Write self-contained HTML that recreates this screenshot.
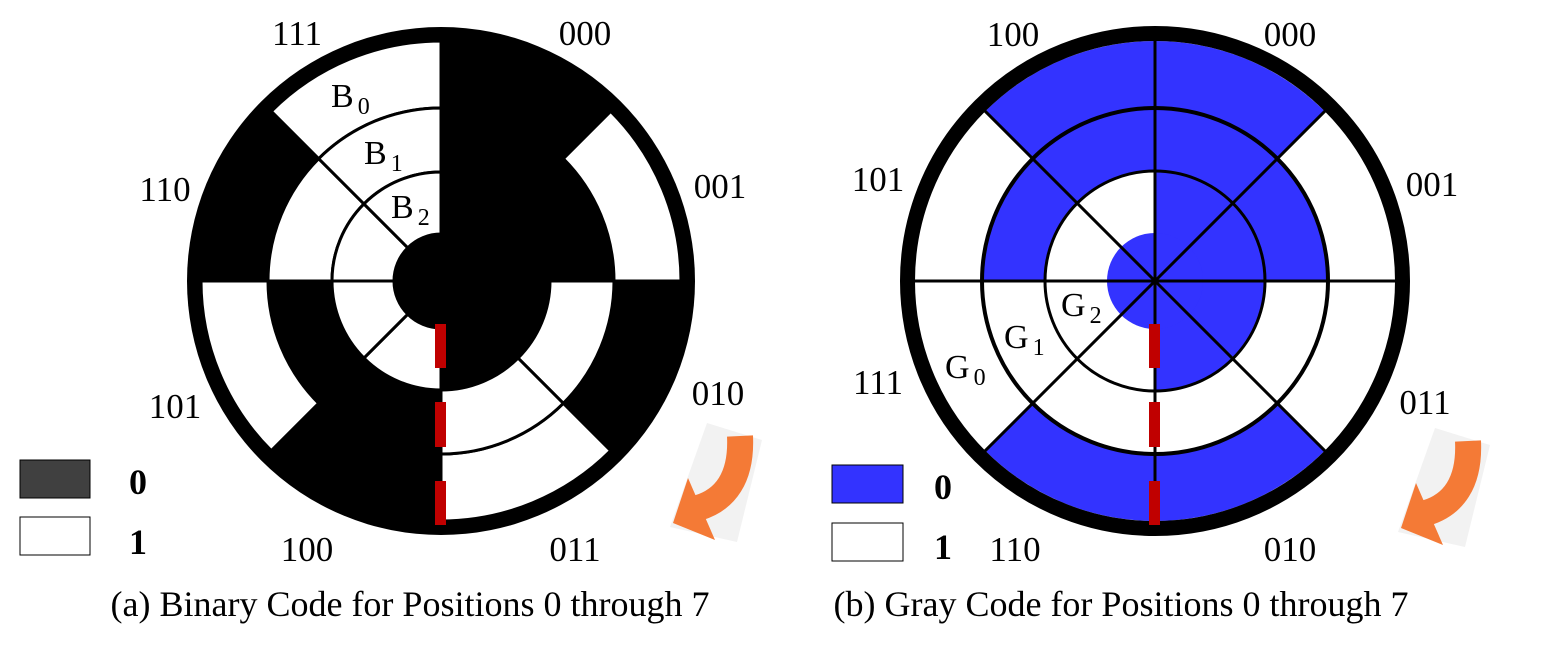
<!DOCTYPE html>
<html><head><meta charset="utf-8"><style>
html,body{margin:0;padding:0;background:#fff;}
svg{display:block;font-family:"Liberation Serif",serif;}
</style></head><body>
<svg id="fig" width="1554" height="651" viewBox="0 0 1554 651" xmlns="http://www.w3.org/2000/svg">
<g id="diskA"></g>
<g id="diskB"></g>

<g font-size="35" text-anchor="middle">
<text x="297" y="45">111</text>
<text x="585" y="45">000</text>
<text x="165" y="201">110</text>
<text x="720" y="198">001</text>
<text x="175" y="418">101</text>
<text x="718" y="405">010</text>
<text x="307" y="561">100</text>
<text x="575" y="561">011</text>
</g>
<g font-size="35" text-anchor="middle">
<text x="1013" y="46">100</text>
<text x="1290" y="46">000</text>
<text x="878" y="191">101</text>
<text x="1432" y="196">001</text>
<text x="878" y="394">111</text>
<text x="1425" y="414">011</text>
<text x="1015" y="561">110</text>
<text x="1290" y="561">010</text>
</g>

<g font-size="34">
<text x="331" y="107">B<tspan font-size="24" dx="4" dy="7">0</tspan></text>
<text x="364" y="164">B<tspan font-size="24" dx="4" dy="7">1</tspan></text>
<text x="391" y="218">B<tspan font-size="24" dx="4" dy="7">2</tspan></text>
<text x="1061" y="316">G<tspan font-size="24" dx="4" dy="7">2</tspan></text>
<text x="1004" y="348">G<tspan font-size="24" dx="4" dy="7">1</tspan></text>
<text x="945" y="378">G<tspan font-size="24" dx="4" dy="7">0</tspan></text>
</g>

<g>
<rect x="20" y="460" width="70" height="38" fill="#404040" stroke="#000" stroke-width="1"/>
<rect x="20" y="517" width="70" height="38" fill="#fff" stroke="#000" stroke-width="1"/>
<text x="129" y="494" font-size="36" font-weight="bold">0</text>
<text x="129" y="554" font-size="36" font-weight="bold">1</text>
</g>
<g>
<rect x="832" y="465" width="71" height="38" fill="#3333ff" stroke="#000" stroke-width="1"/>
<rect x="832" y="523" width="71" height="38" fill="#fff" stroke="#000" stroke-width="1"/>
<text x="934" y="499" font-size="36" font-weight="bold">0</text>
<text x="934" y="559" font-size="36" font-weight="bold">1</text>
</g>

<g>
<polygon points="707,423 762,440 737,542 670,527" fill="#f2f2f2"/>
<path d="M740,436 C742,478 725,500 698,508" fill="none" stroke="#f47a36" stroke-width="26"/>
<polygon points="688,478 715,540 673,523" fill="#f47a36"/>
</g>
<g transform="translate(728,5)">
<polygon points="707,423 762,440 737,542 670,527" fill="#f2f2f2"/>
<path d="M740,436 C742,478 725,500 698,508" fill="none" stroke="#f47a36" stroke-width="26"/>
<polygon points="688,478 715,540 673,523" fill="#f47a36"/>
</g>

<text x="410" y="616" font-size="36" text-anchor="middle">(a) Binary Code for Positions 0 through 7</text>
<text x="1121" y="616" font-size="36" text-anchor="middle">(b) Gray Code for Positions 0 through 7</text>
</svg>
<script>
const binaryCodes = ["000","001","010","011","100","101","110","111"];
const grayCodes = ["000","001","011","010","110","111","101","100"];
const NS = "http://www.w3.org/2000/svg";
function pt(cx, cy, r, a){ const t = a*Math.PI/180; return [cx + r*Math.sin(t), cy - r*Math.cos(t)]; }
function sectorPath(cx, cy, r0, r1, a0, a1){
  const p1 = pt(cx,cy,r1,a0), p2 = pt(cx,cy,r1,a1), p3 = pt(cx,cy,r0,a1), p4 = pt(cx,cy,r0,a0);
  return `M${p1} A${r1},${r1} 0 0 1 ${p2} L${p3} A${r0},${r0} 0 0 0 ${p4} Z`;
}
function mk(tag, attrs, parent){ const e = document.createElementNS(NS, tag); for (const k in attrs) e.setAttribute(k, attrs[k]); parent.appendChild(e); return e; }

// Disk A (binary)
const A = document.getElementById("diskA");
const acx = 441, acy = 281;
const aRings = [[173,240],[109,173],[47,109]];
let bg = mk("circle", {cx:acx, cy:acy, r:254, fill:"#000"}, A);


binaryCodes.forEach((code, k) => {
  for (let b = 0; b < 3; b++) {
    const bit = code[2 - b];
    if (bit === "1") {
      const s = mk("path", {d: sectorPath(acx, acy, aRings[b][0], aRings[b][1], k*45, (k+1)*45), fill:"#fff", stroke:"#000", "stroke-width":3}, A);
      
      
    }
  }
});

// Disk B (gray)
const B = document.getElementById("diskB");
const bcx = 1155, bcy = 281;
const bRings = [[173,240],[110,173],[0,110]];
mk("circle", {cx:bcx, cy:bcy, r:240, fill:"#fff"}, B);
grayCodes.forEach((code, k) => {
  for (let b = 0; b < 3; b++) {
    const bit = code[2 - b];
    if (bit === "0") {
      const r0 = bRings[b][0], r1 = bRings[b][1];
      const s = mk("path", {d: r0 === 0 ?
        `M${bcx},${bcy} L${pt(bcx,bcy,r1,k*45)} A${r1},${r1} 0 0 1 ${pt(bcx,bcy,r1,(k+1)*45)} Z` :
        sectorPath(bcx, bcy, r0, r1, k*45, (k+1)*45), fill:"#3333ff"}, B);
      
      
    }
  }
});
let hub = mk("circle", {cx:bcx, cy:bcy, r:48, fill:"#3333ff"}, B);


[110,173].forEach((r,i) => { mk("circle", {cx:bcx, cy:bcy, r:r, fill:"none", stroke:"#000", "stroke-width": i===0?3:4}, B); });
for (let k = 0; k < 8; k++) {
  const p = pt(bcx, bcy, 242, k*45);
  mk("line", {x1:bcx, y1:bcy, x2:p[0], y2:p[1], stroke:"#000", "stroke-width":3}, B);
}
let rim = mk("circle", {cx:bcx, cy:bcy, r:247.5, fill:"none", stroke:"#000", "stroke-width":15}, B);



[[441, A],[1155, B]].forEach(([x, g]) => {
  [[324,368],[402,447],[481,525]].forEach(([y0,y1]) => {
    const r = mk("rect", {x:x-6, y:y0, width:11, height:y1-y0, fill:"#c00000"}, g);
    
    
  });
});
</script>
</body></html>
